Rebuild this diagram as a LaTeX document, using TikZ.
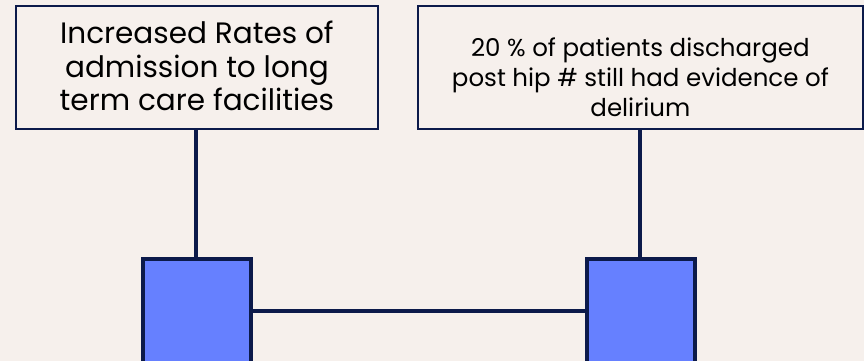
\documentclass[tikz,border=0pt]{standalone}
\usepackage{fontspec}
\setmainfont{Poppins}
\definecolor{bg}{HTML}{F6F0EC}
\definecolor{navy}{HTML}{0C1A4A}
\definecolor{sq}{HTML}{6680FF}
\tikzset{
  txtbox/.style={draw=navy, line width=1.8pt, fill=bg, inner sep=0pt, anchor=north west},
  txt/.style={align=center, text=black, inner sep=0pt},
  sqbox/.style={draw=navy, line width=3.5pt, fill=sq, inner sep=0pt, anchor=north west, minimum width=108pt, minimum height=110pt},
  conn/.style={draw=navy, line width=3.5pt}
}
\begin{document}
\begin{tikzpicture}[x=1pt,y=-1pt]
\fill[bg] (0,0) rectangle (864,361);
\useasboundingbox (0,0) rectangle (864,361);
\node[txtbox, minimum width=362pt, minimum height=123pt] (a) at (15,5) {};
\node[txt, font=\fontsize{29.5}{33.5}\selectfont] (at) at ([yshift=1.5pt]a.center) {Increased Rates of\\admission to long\\term care facilities};
\node[txtbox, minimum width=445pt, minimum height=123pt] (b) at (417,5) {};
\node[txt, font=\fontsize{24.5}{30}\selectfont] (bt) at ([yshift=-10pt]b.center) {20 \% of patients discharged\\post hip \# still had evidence of\\delirium};
\node[sqbox] (c) at (141,257) {};
\node[sqbox] (d) at (585,257) {};
\draw[conn] (a.south -| 196,0) -- (c.north -| 196,0);
\draw[conn] (b.south -| 640,0) -- (d.north -| 640,0);
\draw[conn] (c.east |- 0,311) -- (d.west |- 0,311);
\end{tikzpicture}
\end{document}
